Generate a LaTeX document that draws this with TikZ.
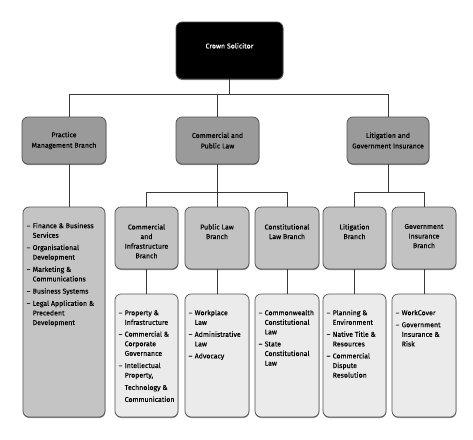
\documentclass[tikz,border=0pt]{standalone}
\usepackage{fontspec}
\setmainfont{Fira Sans}[FakeBold=0.1]
\usetikzlibrary{shadows}
\definecolor{ltwo}{HTML}{9A9A9A}
\definecolor{lthree}{HTML}{C2C2C2}
\definecolor{lfour}{HTML}{EBEBEB}
\definecolor{lpm}{HTML}{C4C4C4}
\definecolor{bordc}{HTML}{505050}
\definecolor{connc}{HTML}{3A3A3A}
\newenvironment{itemtab}{\begin{tabular}{@{}p{6pt}@{}l@{}}}{\end{tabular}}
\begin{document}
\begin{tikzpicture}[x=1pt,y=-1pt,
  box/.style={draw=bordc, line width=0.7pt, rounded corners=6pt, inner sep=0pt, outer sep=0pt,
    anchor=north west, font=\fontsize{7}{9.6}\selectfont, align=center,
    drop shadow={shadow xshift=0.3pt, shadow yshift=-1pt, fill=black, opacity=0.45}},
  crownbox/.style={box, fill=black, text=white},
  lvtwo/.style={box, fill=ltwo, minimum height=47pt, font=\fontsize{7}{10.5}\selectfont},
  lvthree/.style={box, fill=lthree, minimum height=62pt},
  lvfour/.style={box, fill=lfour, minimum height=123pt},
  pmbox/.style={box, fill=lpm, minimum height=210pt},
  ttl/.style={anchor=north, inner sep=0pt, align=center, font=\fontsize{7}{9.6}\selectfont, yshift=-16.8pt},
  lst/.style={anchor=north west, inner sep=0pt, font=\fontsize{7}{9.6}\selectfont, xshift=3.5pt, yshift=-14.3pt},
  conn/.style={draw=connc, line width=0.7pt}]
\fill[white] (0,0) rectangle (473,439);
\useasboundingbox (0,0) rectangle (473,439);
% level 1
\node[crownbox, minimum width=107pt, minimum height=57pt,
  label={[ttl, text=white, yshift=-4pt]north:Crown Solicitor}] (crown) at (176,22) {};
% level 2
\node[lvtwo, minimum width=84pt] (pm) at (22,117) {Practice\\Management Branch};
\node[lvtwo, minimum width=83pt] (cp) at (176,117) {Commercial and\\Public Law};
\node[lvtwo, minimum width=82pt] (lg) at (347,117) {Litigation and\\Government Insurance};
% practice list
\node[pmbox, minimum width=82pt,
  label={[lst]north west:\begin{itemtab}
  – & Finance \& Business\\ & Services\\[2.6pt]
  – & Organisational\\ & Development\\[2.6pt]
  – & Marketing \&\\ & Communications\\[2.6pt]
  – & Business Systems\\[2.6pt]
  – & Legal Application \&\\ & Precedent\\ & Development
  \end{itemtab}}] (pml) at (23,207) {};
% level 3
\node[lvthree, minimum width=63pt,
  label={[ttl]north:Commercial\\and\\Infrastructure\\Branch}] (ci) at (115,207) {};
\node[lvthree, minimum width=64pt,
  label={[ttl]north:Public Law\\Branch}] (pl) at (185,207) {};
\node[lvthree, minimum width=64pt,
  label={[ttl]north:Constitutional\\Law Branch}] (cl) at (255,207) {};
\node[lvthree, minimum width=63pt,
  label={[ttl]north:Litigation\\Branch}] (lb) at (323,207) {};
\node[lvthree, minimum width=64pt,
  label={[ttl]north:Government\\Insurance\\Branch}] (gi) at (392,207) {};
% level 4
\node[lvfour, minimum width=63pt,
  label={[lst]north west:\begin{itemtab}
  – & Property \&\\ & Infrastructure\\[2.2pt]
  – & Commercial \&\\ & Corporate\\ & Governance\\[2.6pt]
  – & Intellectual\\ & Property,\\[2.7pt] & Technology \&\\[2.4pt] & Communication
  \end{itemtab}}] (ci4) at (115,294) {};
\node[lvfour, minimum width=64pt,
  label={[lst]north west:\begin{itemtab}
  – & Workplace\\ & Law\\[2.4pt]
  – & Administrative\\ & Law\\[2.4pt]
  – & Advocacy
  \end{itemtab}}] (pl4) at (185,294) {};
\node[lvfour, minimum width=64pt,
  label={[lst]north west:\begin{itemtab}
  – & Commonwealth\\ & Constitutional\\ & Law\\[2.4pt]
  – & State\\ & Constitutional\\ & Law
  \end{itemtab}}] (cl4) at (255,294) {};
\node[lvfour, minimum width=63pt,
  label={[lst]north west:\begin{itemtab}
  – & Planning \&\\ & Environment\\[2.4pt]
  – & Native Title \&\\ & Resources\\[2.4pt]
  – & Commercial\\ & Dispute\\ & Resolution
  \end{itemtab}}] (lb4) at (323,294) {};
\node[lvfour, minimum width=64pt,
  label={[lst]north west:\begin{itemtab}
  – & WorkCover\\[2.4pt]
  – & Government\\ & Insurance \&\\ & Risk
  \end{itemtab}}] (gi4) at (392,294) {};
% junctions
\coordinate (j1) at (229.5,94);
\coordinate (j2) at (217.5,192);
\coordinate (j3) at (388,192);
% connectors
\draw[conn] (crown.south) -- (j1);
\draw[conn] ([xshift=5pt]pm.north) -- ([xshift=5pt]pm.north |- j1) -- (lg.north |- j1) -- (lg.north);
\draw[conn] (cp.north) -- (cp.north |- j1);
\draw[conn] ([xshift=5pt]pm.south) -- ([xshift=5pt]pm.south |- pml.north);
\draw[conn] (cp.south) -- (j2);
\draw[conn] (ci.north) -- (ci.north |- j2) -- (cl.north |- j2) -- (cl.north);
\draw[conn] (pl.north) -- (pl.north |- j2);
\draw[conn] (lg.south) -- (j3);
\draw[conn] (lb.north) -- (lb.north |- j3) -- (gi.north |- j3) -- (gi.north);
\draw[conn] (ci.south) -- (ci4.north);
\draw[conn] (pl.south) -- (pl4.north);
\draw[conn] (cl.south) -- (cl4.north);
\draw[conn] (lb.south) -- (lb4.north);
\draw[conn] (gi.south) -- (gi4.north);
\end{tikzpicture}
\end{document}
